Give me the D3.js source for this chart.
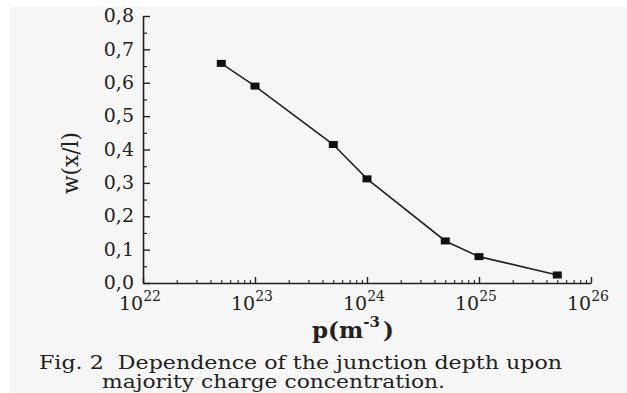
<!DOCTYPE html>
<html><head><meta charset="utf-8">
<script src="https://cdn.jsdelivr.net/npm/d3@7"></script>
<style>
html,body{margin:0;padding:0;background:#fff;}
svg{display:block;}
svg text{font-family:"DejaVu Serif",serif !important;fill:#222;}
</style></head>
<body>
<svg id="c" width="627" height="393"></svg>
<script>
// ---- data ----
const concentrations = [5e22, 1e23, 5e23, 1e24, 5e24, 1e25, 5e25];
const depths = [0.658, 0.59, 0.415, 0.312, 0.126, 0.079, 0.024];
const yTicks = [0, 0.1, 0.2, 0.3, 0.4, 0.5, 0.6, 0.7, 0.8];
const yTickLabels = ["0,0","0,1","0,2","0,3","0,4","0,5","0,6","0,7","0,8"];
const xDecades = [22, 23, 24, 25, 26];
const yTitle = "w(x/l)";
const xTitleBase = "p(m";
const xTitleSup = "-3";
const captionLines = ["Fig. 2  Dependence of the junction depth upon", "majority charge concentration."];

const svg = d3.select("#c");
svg.append("rect").attr("x",10).attr("y",7).attr("width",617).attr("height",386).attr("fill","#f6f6f6");

const x = d3.scaleLog().domain([1e22, 1e26]).range([143, 591]);
const y = d3.scaleLinear().domain([0, 0.8]).range([283, 16]);

const col = "#222";
// Y axis
const yAxis = svg.append("g").attr("transform", `translate(${x.range()[0]},0)`)
  .call(d3.axisLeft(y).tickValues(yTicks).tickFormat((d,i)=>yTickLabels[i]).tickSizeInner(-7).tickSizeOuter(0).tickPadding(9));
yAxis.selectAll("text").attr("font-size", 19).attr("dy", "0.3em").attr("fill", col);
yAxis.select(".domain").attr("stroke", col).attr("stroke-width", 1.6);
yAxis.selectAll(".tick line").attr("stroke", col).attr("stroke-width", 1.4);
const yMinor = d3.range(0.05, 0.8, 0.1);
svg.append("g").attr("transform", `translate(${x.range()[0]},0)`)
  .call(d3.axisLeft(y).tickValues(yMinor).tickFormat("").tickSizeInner(-4).tickSizeOuter(0))
  .call(g=>{g.select(".domain").remove(); g.selectAll("line").attr("stroke", col).attr("stroke-width",1.2);});

// X axis
const xMajor = xDecades.map(e => Math.pow(10, e));
const xAxis = svg.append("g").attr("transform", `translate(0,${y.range()[0]})`)
  .call(d3.axisBottom(x).tickValues(xMajor).tickFormat("").tickSizeInner(-6).tickSizeOuter(0));
xAxis.select(".domain").attr("stroke", col).attr("stroke-width", 1.6);
xAxis.selectAll(".tick line").attr("stroke", col).attr("stroke-width", 1.4);
const xMinor = [];
xDecades.slice(0,-1).forEach(e => { for (let m = 2; m <= 9; m++) xMinor.push(m * Math.pow(10, e)); });
svg.append("g").attr("transform", `translate(0,${y.range()[0]})`)
  .call(d3.axisBottom(x).tickValues(xMinor).tickFormat("").tickSizeInner(-3).tickSizeOuter(0))
  .call(g=>{g.select(".domain").remove(); g.selectAll("line").attr("stroke", col).attr("stroke-width",1.1);});

// x tick labels with superscripts
const xl = svg.append("g");
xDecades.forEach(e => {
  const t = xl.append("text").attr("x", x(Math.pow(10,e)) - 3).attr("y", 310)
    .attr("text-anchor","middle").attr("font-size", 19);
  t.append("tspan").text("10");
  t.append("tspan").attr("dy", -9).attr("font-size", 14).text(String(e));
});

// line + markers
const pts = concentrations.map((c,i)=>[c, depths[i]]);
svg.append("path").datum(pts)
  .attr("d", d3.line().x(d=>x(d[0])).y(d=>y(d[1])))
  .attr("fill","none").attr("stroke", col).attr("stroke-width", 1.6);
svg.selectAll("rect.m").data(pts).join("rect").attr("class","m")
  .attr("x", d=>x(d[0]) - 4.5).attr("y", d=>y(d[1]) - 3.5)
  .attr("width", 9).attr("height", 7).attr("fill", "#111");

// axis titles
svg.append("text").attr("transform", "translate(78,163) rotate(-90)")
  .attr("text-anchor","middle").attr("font-size", 23).attr("textLength", 62).attr("lengthAdjust","spacingAndGlyphs").text(yTitle);
const xt = svg.append("text").attr("x", 312).attr("y", 338).attr("font-size", 23).attr("font-weight","bold");
xt.append("tspan").text(xTitleBase);
xt.append("tspan").attr("dy", -11).attr("font-size", 15).text(xTitleSup);
xt.append("tspan").attr("dy", 11).attr("dx", 3).text(")");

// caption
svg.append("text").attr("x", 39).attr("y", 369).attr("font-size", 18)
  .attr("textLength", 523).attr("lengthAdjust","spacingAndGlyphs").style("white-space","pre").text(captionLines[0]);
svg.append("text").attr("x", 102).attr("y", 388).attr("font-size", 18)
  .attr("textLength", 343).attr("lengthAdjust","spacingAndGlyphs").text(captionLines[1]);
</script>
</body></html>
